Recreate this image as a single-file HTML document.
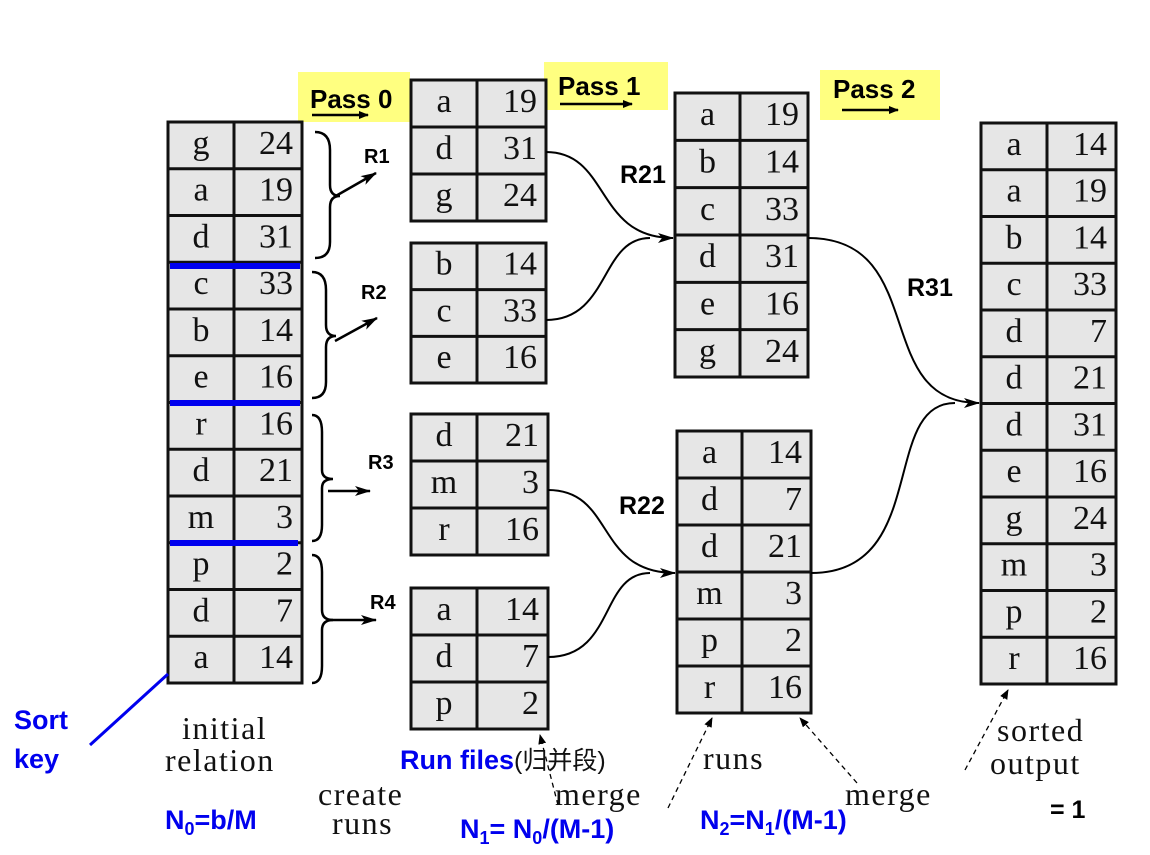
<!DOCTYPE html>
<html><head><meta charset="utf-8"><style>
body{margin:0;background:#fff;width:1150px;height:855px;overflow:hidden}
svg{display:block}
.c{font-family:"Liberation Serif",serif;font-size:34px;fill:#111}
.b{font-family:"Liberation Sans",sans-serif;font-weight:bold;fill:#000}
.s{font-family:"Liberation Serif","Noto Serif CJK SC",serif;font-size:32px;fill:#111;letter-spacing:1.5px}
.bl{font-family:"Liberation Sans","Noto Sans CJK SC",sans-serif;font-weight:bold;fill:#0000ee;font-size:27px}
</style></head><body>
<svg id="svg" width="1150" height="855" viewBox="0 0 1150 855">
<defs><marker id="ah" markerUnits="userSpaceOnUse" markerWidth="16" markerHeight="10" refX="15" refY="5" orient="auto"><path d="M0,0 L16,5 L0,10 L4,5 z" fill="#000"/></marker>
<marker id="ahs" markerUnits="userSpaceOnUse" markerWidth="10" markerHeight="8" refX="9" refY="4" orient="auto"><path d="M0,0 L10,4 L0,8 z" fill="#000"/></marker></defs>
<g>
<rect x="298" y="72" width="112" height="50" fill="#ffff80"/>
<text class="b" x="310" y="108" font-size="26">Pass 0</text>
<line x1="312" y1="115" x2="368" y2="115" stroke="#000" stroke-width="2.5" marker-end="url(#ahs)"/>
<rect x="544" y="62" width="124" height="48" fill="#ffff80"/>
<text class="b" x="558" y="95" font-size="26">Pass 1</text>
<line x1="560" y1="104" x2="632" y2="104" stroke="#000" stroke-width="2.5" marker-end="url(#ahs)"/>
<rect x="820" y="70" width="120" height="50" fill="#ffff80"/>
<text class="b" x="833" y="98" font-size="26">Pass 2</text>
<line x1="842" y1="110" x2="898" y2="110" stroke="#000" stroke-width="2.5" marker-end="url(#ahs)"/>
</g>
<g id="tables"></g>
<g stroke="#0000ee" stroke-width="6">
<line x1="170" y1="266" x2="300" y2="266"/><line x1="170" y1="403" x2="300" y2="403"/><line x1="170" y1="543" x2="298" y2="543"/>
</g>
<g fill="none" stroke="#000" stroke-width="2.5">
<path d="M315,132 Q330,132 330,150 V185 Q330,196 340,196 Q330,196 330,207 V242 Q330,258 315,258"/>
<path d="M312,272 Q326,272 326,290 V325 Q326,336 336,336 Q326,336 326,347 V382 Q326,398 312,398"/>
<path d="M312,415 Q322,415 322,432 V470 Q322,479 333,479 Q322,479 322,488 V525 Q322,541 312,541"/>
<path d="M312,555 Q322,555 322,572 V610 Q322,620 333,620 Q322,620 322,630 V666 Q322,683 312,683"/>
</g>
<g stroke="#000" stroke-width="2.5">
<line x1="334" y1="197" x2="376" y2="173" marker-end="url(#ah)"/>
<line x1="335" y1="341" x2="377" y2="318" marker-end="url(#ah)"/>
<line x1="328" y1="491" x2="370" y2="491" marker-end="url(#ah)"/>
<line x1="330" y1="620" x2="376" y2="620" marker-end="url(#ah)"/>
</g>
<g class="b" font-size="20">
<text x="364" y="163">R1</text><text x="361" y="299">R2</text><text x="368" y="469">R3</text><text x="370" y="609">R4</text>
</g>
<g class="b" font-size="25">
<text x="620" y="183">R21</text><text x="619" y="514">R22</text><text x="907" y="296">R31</text>
</g>
<g fill="none" stroke="#000" stroke-width="2">
<path d="M546,152 C610,152 595,238 673,238" marker-end="url(#ah)"/>
<path d="M546,320 C610,320 600,238 650,238"/>
<path d="M548,490 C615,490 595,573 675,573" marker-end="url(#ah)"/>
<path d="M548,657 C615,657 600,573 650,573"/>
<path d="M808,238 C930,238 870,403 979,403" marker-end="url(#ah)"/>
<path d="M811,573 C930,573 880,403 955,403"/>
</g>
<g fill="none" stroke="#000" stroke-width="1.3" stroke-dasharray="5,4">
<line x1="558" y1="805" x2="540" y2="735" marker-end="url(#ahs)"/>
<line x1="668" y1="808" x2="712" y2="718" marker-end="url(#ahs)"/>
<line x1="857" y1="783" x2="800" y2="718" marker-end="url(#ahs)"/>
<line x1="965" y1="770" x2="1008" y2="690" marker-end="url(#ahs)"/>
</g>
<line x1="90" y1="745" x2="168" y2="674" stroke="#0000ee" stroke-width="3"/>
<g>
<text class="bl" x="14" y="729">Sort</text><text class="bl" x="14" y="768">key</text>
<text class="s" x="182" y="739">initial</text><text class="s" x="165" y="771">relation</text>
<text class="s" x="318" y="805">create</text><text class="s" x="332" y="834">runs</text>
<text class="bl" x="400" y="769">Run files<tspan fill="#111" font-weight="normal" font-size="25">(归并段)</tspan></text>
<text class="s" x="555" y="805">merge</text>
<text class="s" x="703" y="769">runs</text>
<text class="s" x="845" y="805">merge</text>
<text class="s" x="997" y="741">sorted</text><text class="s" x="990" y="774">output</text>
<text class="bl" x="165" y="829">N<tspan font-size="18" dy="6">0</tspan><tspan dy="-6">=b/M</tspan></text>
<text class="bl" x="460" y="838">N<tspan font-size="18" dy="6">1</tspan><tspan dy="-6">= N</tspan><tspan font-size="18" dy="6">0</tspan><tspan dy="-6">/(M-1)</tspan></text>
<text class="bl" x="700" y="829">N<tspan font-size="18" dy="6">2</tspan><tspan dy="-6">=N</tspan><tspan font-size="18" dy="6">1</tspan><tspan dy="-6">/(M-1)</tspan></text>
<text class="b" x="1050" y="818" font-size="25">= 1</text>
</g>
</svg>
<script>
const initialKeys=["g","a","d","c","b","e","r","d","m","p","d","a"];
const initialVals=[24,19,31,33,14,16,16,21,3,2,7,14];
const r1Keys=["a","d","g"],r1Vals=[19,31,24];
const r2Keys=["b","c","e"],r2Vals=[14,33,16];
const r3Keys=["d","m","r"],r3Vals=[21,3,16];
const r4Keys=["a","d","p"],r4Vals=[14,7,2];
const r21Keys=["a","b","c","d","e","g"],r21Vals=[19,14,33,31,16,24];
const r22Keys=["a","d","d","m","p","r"],r22Vals=[14,7,21,3,2,16];
const outKeys=["a","a","b","c","d","d","d","e","g","m","p","r"];
const outVals=[14,19,14,33,7,21,31,16,24,3,2,16];
const NS="http://www.w3.org/2000/svg";
const g=document.getElementById('tables');
function mk(t,a,p){const e=document.createElementNS(NS,t);for(const k in a)e.setAttribute(k,a[k]);p.appendChild(e);return e;}
function table(name,x,y,w,h,split,keys,vals){
  const grp=mk('g',{},g);
  
  
  const rh=h/keys.length;
  mk('rect',{x:x,y:y,width:w,height:h,fill:'#e6e6e6',stroke:'#111','stroke-width':3},grp);
  mk('line',{x1:x+split,y1:y,x2:x+split,y2:y+h,stroke:'#111','stroke-width':3},grp);
  keys.forEach((k,i)=>{
    if(i>0)mk('line',{x1:x,y1:y+i*rh,x2:x+w,y2:y+i*rh,stroke:'#111','stroke-width':3},grp);
    const t1=mk('text',{x:x+split/2,y:y+i*rh+rh*0.68,'text-anchor':'middle',class:'c'},grp);t1.textContent=k;
    
    
    const t2=mk('text',{x:x+w-9,y:y+i*rh+rh*0.68,'text-anchor':'end',class:'c'},grp);t2.textContent=vals[i];
    
    
  });
}
table('initial-relation',168,122,134,561,66,initialKeys,initialVals);
table('run-r1',411,80,135,141,66,r1Keys,r1Vals);
table('run-r2',411,243,135,140,66,r2Keys,r2Vals);
table('run-r3',411,414,137,141,66,r3Keys,r3Vals);
table('run-r4',411,588,137,141,66,r4Keys,r4Vals);
table('run-r21',675,93,133,284,65,r21Keys,r21Vals);
table('run-r22',677,431,134,282,65,r22Keys,r22Vals);
table('sorted-output',981,123,135,561,66,outKeys,outVals);
</script>
</body></html>
